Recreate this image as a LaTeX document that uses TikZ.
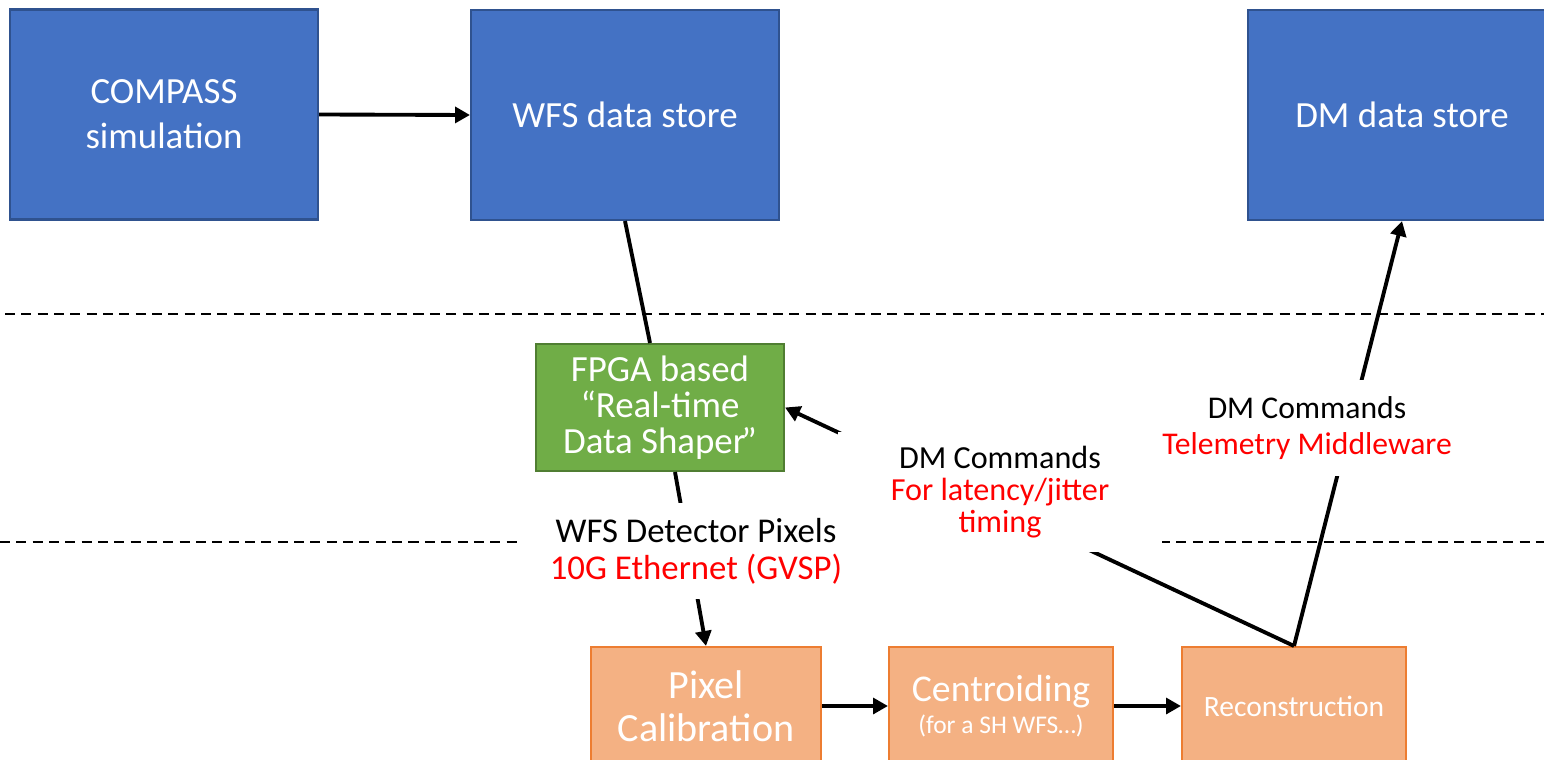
\documentclass[tikz,border=0pt]{standalone}
\usepackage{fontspec}
\setmainfont{Carlito}
\usetikzlibrary{arrows.meta,calc}
\definecolor{boxblue}{HTML}{4472C4}
\definecolor{boxblueborder}{HTML}{2F528F}
\definecolor{boxgreen}{HTML}{70AD47}
\definecolor{boxgreenborder}{HTML}{507E32}
\definecolor{boxorange}{HTML}{F4B183}
\definecolor{boxorangeborder}{HTML}{ED7D31}
\definecolor{lblred}{HTML}{FF0000}
\tikzset{
  bluebox/.style={draw=boxblueborder, line width=1.2pt, fill=boxblue, text=white, inner sep=0pt,
    align=center, minimum width=6.16cm, minimum height=4.2cm, font=\fontsize{21pt}{25.5pt}\selectfont},
  greenbox/.style={draw=boxgreenborder, line width=1.2pt, fill=boxgreen, text=white, inner sep=0pt,
    align=center, minimum width=4.96cm, minimum height=2.54cm, font=\fontsize{21pt}{20.5pt}\selectfont},
  orangebox/.style={draw=boxorangeborder, line width=1.2pt, fill=boxorange, text=white, inner sep=0pt,
    align=center, minimum height=2.36cm},
  lbl/.style={fill=white, inner sep=0pt, align=center, text=black},
  conn/.style={line width=2.2pt, black},
  arr/.style={conn, -{Triangle[length=8.5pt,width=9pt]}},
  sep/.style={line width=1.2pt, black, dash pattern=on 5.7pt off 3.6pt}
}
\begin{document}
\begin{tikzpicture}[x=0.02cm,y=-0.02cm]
\useasboundingbox (0,0) rectangle (1544,760);
\clip (0,0) rectangle (1544,760);
\fill[white] (0,0) rectangle (1544,760);
% separators
\coordinate (s1a) at (5,314);
\coordinate (s1b) at (1544,314);
\coordinate (s2a) at (0,542);
\coordinate (s2b) at (1544,542);
\draw[sep] (s1a) -- (s1b);
\draw[sep] (s2a) -- (s2b);
% boxes
\node[bluebox] (compass) at (164,114.5) {COMPASS\\simulation};
\node[bluebox] (wfs) at (625,115) {WFS data store};
\node[bluebox] (dm) at (1402,115) {DM data store};
\node[greenbox] (fpga) at (660,407.5) {FPGA based\\“Real-time\\Data Shaper\kern-2.5pt”};
\node[orangebox, minimum width=4.6cm, font=\fontsize{22.8pt}{24.5pt}\selectfont] (pixcal) at (706,706) {Pixel\\Calibration};
\node[orangebox, minimum width=4.48cm] (centroid) at (1001,706) {{\fontsize{21.5pt}{24pt}\selectfont Centroiding}\\[3pt]{\fontsize{14.5pt}{17pt}\selectfont (for a SH WFS…)}};
\node[orangebox, minimum width=4.48cm, font=\fontsize{16.8pt}{20pt}\selectfont] (recon) at (1294,706) {Reconstruction};
% connectors
\draw[arr] (compass.east) -- (wfs.west);
\draw[conn] (wfs.south) -- ($(fpga.north)+(-10,0)$);
\draw[arr] ($(fpga.south)+(15,0)$) -- (pixcal.north);
\draw[arr] (pixcal.east) -- (centroid.west);
\draw[arr] (centroid.east) -- (recon.west);
\draw[arr] (recon.north) -- (fpga.east);
\draw[arr] (recon.north) -- (dm.south);
% labels
\node[lbl, minimum width=7.16cm, minimum height=1.94cm, font=\fontsize{19.8pt}{21pt}\selectfont] (wfslbl) at (696,551)
  {WFS Detector Pixels\\\textcolor{lblred}{10G Ethernet (GVSP)}};
\node[lbl, minimum width=6.5cm, minimum height=2.4cm, font=\fontsize{18.3pt}{18pt}\selectfont] (latlbl) at (1000,492)
  {DM Commands\\\textcolor{lblred}{For latency/jitter}\\\textcolor{lblred}{timing}};
\node[lbl, minimum width=6cm, minimum height=1.94cm, font=\fontsize{18pt}{20pt}\selectfont] (tellbl) at (1307,428)
  {DM Commands\\\textcolor{lblred}{Telemetry Middleware}};
\end{tikzpicture}
\end{document}
